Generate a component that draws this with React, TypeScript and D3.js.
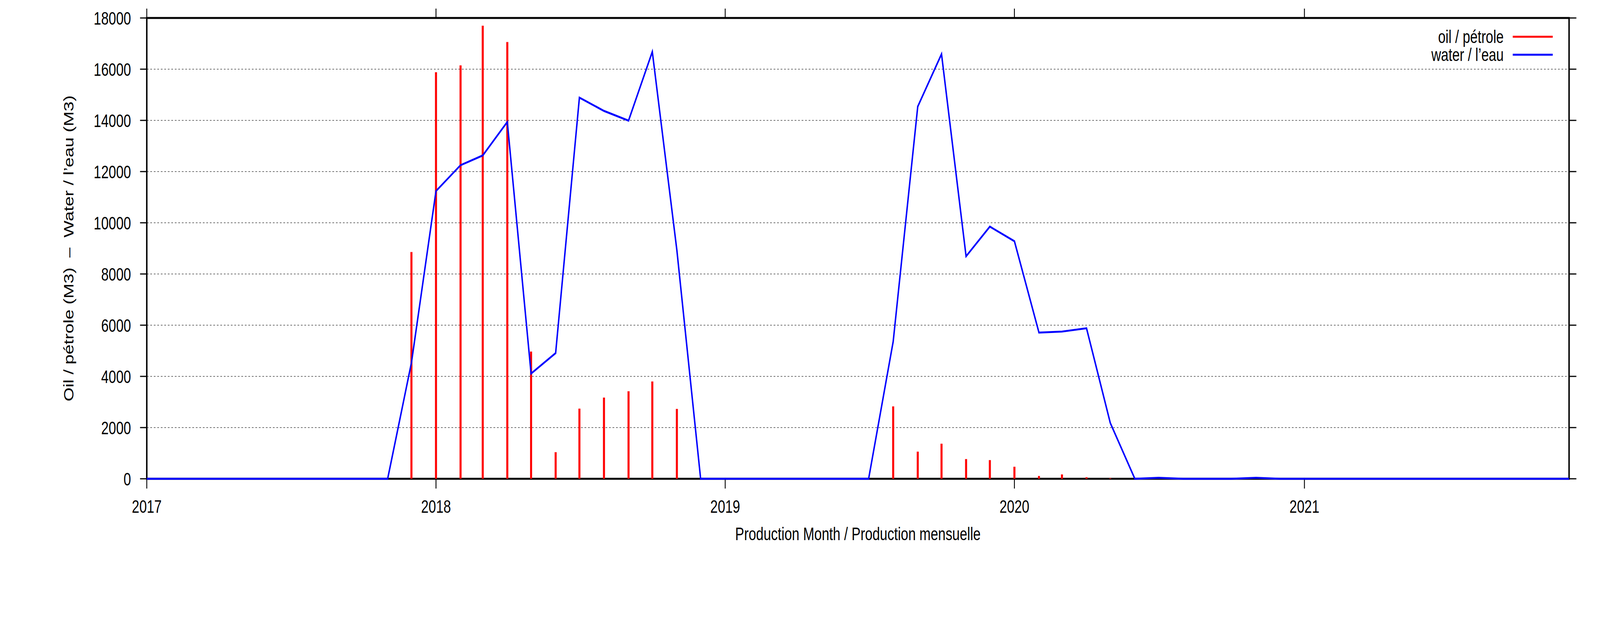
import React from "react";
import * as d3 from "d3";

const months: string[] = [
  "2017-01","2017-02","2017-03","2017-04","2017-05","2017-06","2017-07","2017-08","2017-09","2017-10","2017-11","2017-12",
  "2018-01","2018-02","2018-03","2018-04","2018-05","2018-06","2018-07","2018-08","2018-09","2018-10","2018-11","2018-12",
  "2019-01","2019-02","2019-03","2019-04","2019-05","2019-06","2019-07","2019-08","2019-09","2019-10","2019-11","2019-12",
  "2020-01","2020-02","2020-03","2020-04","2020-05","2020-06","2020-07","2020-08","2020-09","2020-10","2020-11","2020-12",
  "2021-01","2021-02","2021-03","2021-04","2021-05","2021-06","2021-07","2021-08","2021-09","2021-10","2021-11","2021-12",
];

const oilValues: number[] = [
  0, 0, 0, 0, 0, 0, 0, 0, 0, 0, 0, 8860,
  15880, 16150, 17700, 17060, 4970, 1040, 2740, 3170, 3420, 3800, 2730, 0,
  0, 0, 0, 0, 0, 0, 0, 2830, 1060, 1370, 770, 730,
  470, 110, 170, 60, 25, 0, 0, 0, 0, 0, 0, 0,
  0, 0, 0, 0, 0, 0, 0, 0, 0, 0, 0, 0,
];

const waterValues: number[] = [
  0, 0, 0, 0, 0, 0, 0, 0, 0, 0, 0, 4530,
  11240, 12250, 12630, 13940, 4110, 4910, 14890, 14370, 13990, 16680, 8930, 0,
  0, 0, 0, 0, 0, 0, 0, 5360, 14540, 16590, 8690, 9850,
  9280, 5710, 5750, 5880, 2180, 0, 40, 0, 0, 0, 40, 0,
  0, 0, 0, 0, 0, 0, 0, 0, 0, 0, 0, 0,
];

const yTicks: number[] = [0, 2000, 4000, 6000, 8000, 10000, 12000, 14000, 16000, 18000];
const xTickYears: string[] = ["2017", "2018", "2019", "2020", "2021"];

const seriesLabels: string[] = ["oil / pétrole", "water / l’eau"];
const yTitle = "Oil / pétrole (M3)  –  Water / l’eau (M3)";
const xTitle = "Production Month / Production mensuelle";

// drawing coordinate system (reference picture size)
const W = 5483;
const H = 1594;
const L = 503, R = 5377, T = 46, B = 1225;
const FONT = "'Liberation Sans', Arial, Helvetica, sans-serif";
const FS = 46;

const parse = d3.timeParse("%Y-%m");

export default function App() {
  const x = d3.scaleTime().domain([parse("2017-01")!, parse("2021-12")!]).range([L, R]);
  const y = d3.scaleLinear().domain([0, 18000]).range([B, T]);
  const pts = months.map((m, i) => ({ d: parse(m)!, oil: oilValues[i], water: waterValues[i] }));
  const line = d3.line<{ d: Date; water: number }>().x((p) => x(p.d)).y((p) => y(p.water));

  return (
    <svg
      viewBox={`0 0 ${W} ${H}`}
      preserveAspectRatio="none"
      style={{ position: "absolute", left: 0, top: 0, width: "100vw", height: "100vh", background: "#fff", display: "block" }}
      fontFamily={FONT}
    >
      <rect x={0} y={0} width={W} height={H} fill="#fff" />
      {/* horizontal grid */}
      {yTicks.filter((t) => t > 0 && t < 18000).map((t) => (
        <line key={"g" + t} x1={L} x2={R} y1={y(t)} y2={y(t)} stroke="#000" strokeOpacity={0.75} strokeWidth={1.5} strokeDasharray="6,6" />
      ))}
      {/* border */}
      <rect x={L} y={T} width={R - L} height={B - T} fill="none" stroke="#000" strokeWidth={5} />
      {/* y ticks */}
      {yTicks.map((t) => (
        <g key={"yt" + t}>
          <line x1={L - 23} x2={L} y1={y(t)} y2={y(t)} stroke="#000" strokeWidth={3} />
          <line x1={R} x2={R + 25} y1={y(t)} y2={y(t)} stroke="#000" strokeWidth={3} />
          <text x={449} y={y(t)} dy="0.36em" textAnchor="end" fontSize={FS}>{t}</text>
        </g>
      ))}
      {/* x ticks */}
      {xTickYears.map((yr) => {
        const xx = x(parse(yr + "-01")!);
        return (
          <g key={"xt" + yr}>
            <line x1={xx} x2={xx} y1={B} y2={B + 25} stroke="#000" strokeWidth={3} />
            <line x1={xx} x2={xx} y1={T - 24} y2={T} stroke="#000" strokeWidth={3} />
            <text x={xx} y={1312} textAnchor="middle" fontSize={FS}>{yr}</text>
          </g>
        );
      })}
      {/* oil impulses */}
      {pts.filter((p) => p.oil > 0).map((p) => (
        <line key={"o" + p.d.getTime()} x1={x(p.d)} x2={x(p.d)} y1={y(0)} y2={y(p.oil)} stroke="#ff0000" strokeWidth={7} />
      ))}
      {/* water line */}
      <path d={line(pts) || ""} fill="none" stroke="#0000ff" strokeWidth={5} strokeLinejoin="miter" />
      {/* titles */}
      <text x={(L + R) / 2} y={1382} textAnchor="middle" fontSize={FS}>{xTitle}</text>
      <text transform={`translate(252,${(T + B) / 2}) rotate(-90)`} textAnchor="middle" fontSize={FS} style={{ whiteSpace: "pre" }}>{yTitle}</text>
      {/* legend */}
      <text x={5153} y={110} textAnchor="end" fontSize={FS}>{seriesLabels[0]}</text>
      <line x1={5184} x2={5321} y1={94} y2={94} stroke="#ff0000" strokeWidth={5} />
      <text x={5153} y={156} textAnchor="end" fontSize={FS}>{seriesLabels[1]}</text>
      <line x1={5184} x2={5321} y1={140} y2={140} stroke="#0000ff" strokeWidth={5} />
    </svg>
  );
}
